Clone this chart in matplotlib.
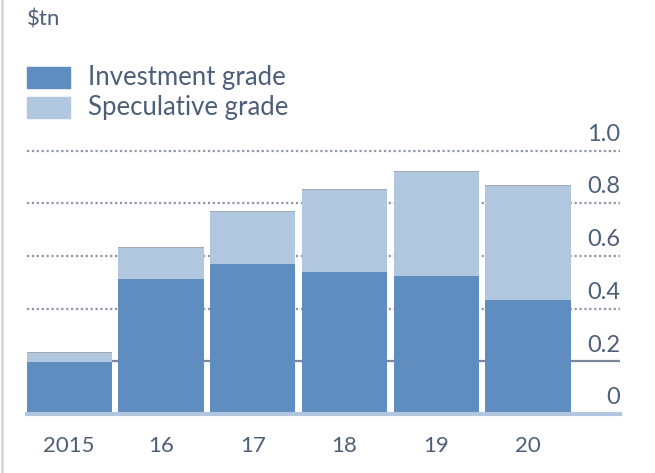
import matplotlib
matplotlib.use("Agg")
import matplotlib.pyplot as plt
from matplotlib.patches import Rectangle
from matplotlib.lines import Line2D
import matplotlib.transforms as mtransforms

plt.rcParams['font.family'] = ['Lato', 'DejaVu Sans']

years = ["2015", "16", "17", "18", "19", "20"]
investment = [0.196, 0.511, 0.569, 0.540, 0.524, 0.433]
total = [0.235, 0.635, 0.770, 0.853, 0.923, 0.869]
speculative = [t - i for t, i in zip(total, investment)]
yticks = [0, 0.2, 0.4, 0.6, 0.8, 1.0]
ytick_labels = ["0", "0.2", "0.4", "0.6", "0.8", "1.0"]

c_ig = "#5f8dc0"
c_sp = "#b1c6df"
c_text = "#4d5f78"
c_grid = "#8c97a8"

W, H = 655, 473
fig = plt.figure(figsize=(W / 100, H / 100), dpi=100)
fig.patch.set_facecolor("white")

ylim_top = 1.05
px_per_unit = 263.4
ax_h = ylim_top * px_per_unit / H
ax = fig.add_axes([27 / W, (H - 414) / H, (620 - 27) / W, ax_h])
ax.set_ylim(0, ylim_top)
ax.set_xlim(-0.457, 6.0)
for s in ax.spines.values():
    s.set_visible(False)

# gridlines
for v in yticks[1:]:
    if abs(v - 0.2) < 1e-9:
        ax.axhline(v, color="#7a879a", lw=1.6, zorder=1)
    else:
        ax.axhline(v, color=c_grid, lw=1.6, ls=(0, (1, 1.2)), zorder=1)
ax.axhline(0, color=c_sp, lw=3, zorder=3, clip_on=False)

x = list(range(len(years)))
ax.bar(x, investment, width=0.93, color=c_ig, zorder=2, linewidth=0)
ax.bar(x, speculative, bottom=investment, width=0.93, color=c_sp, zorder=2, linewidth=0)
# thin top edge on bars
ax.bar(x, [0.004] * len(x), bottom=[t - 0.004 for t in total], width=0.93,
       color="#a0a9b5", zorder=2, linewidth=0)

ax.set_xticks(x)
ax.set_xticklabels(years, fontsize=16, color=c_text)
ax.tick_params(axis="x", length=0, pad=16)
ax.set_yticks([])

trans = mtransforms.blended_transform_factory(ax.transAxes, ax.transData)
for v, lab in zip(yticks, ytick_labels):
    ax.text(1.0, v + 0.022, lab, transform=trans, ha="right", va="bottom",
            fontsize=17, color=c_text)

# title unit
fig.text(27 / W, 1 - 20 / H, "$tn", fontsize=16, color=c_text, va="center", ha="left")

# legend
fig.patches.append(Rectangle((27 / W, 1 - 88 / H), 43 / W, 21 / H, transform=fig.transFigure,
                             color=c_ig))
fig.patches.append(Rectangle((27 / W, 1 - 118 / H), 43 / W, 21 / H, transform=fig.transFigure,
                             color=c_sp))
fig.text(88 / W, 1 - 77 / H, "Investment grade", fontsize=18.5, color=c_text, va="center", ha="left")
fig.text(88 / W, 1 - 107 / H, "Speculative grade", fontsize=18.5, color=c_text, va="center", ha="left")

# left border
fig.add_artist(Line2D([2 / W, 2 / W], [0, 1], transform=fig.transFigure, color="#d8d8d8", lw=2))

fig.savefig("out.png", dpi=100)
